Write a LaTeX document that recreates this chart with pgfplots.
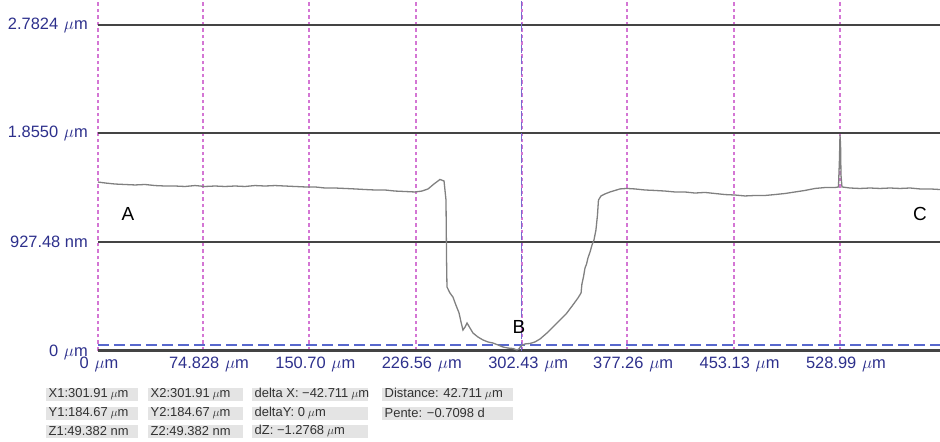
\documentclass[border=0pt]{standalone}
\usepackage{fontspec}
\setmainfont{Liberation Sans}
\usepackage{pgfplots}
\usepackage{pgfplotstable}
\pgfplotsset{compat=1.18}

\definecolor{lbl}{RGB}{45,48,140}
\definecolor{gridgray}{RGB}{68,68,68}
\definecolor{pinkgrid}{RGB}{212,118,212}
\definecolor{cursorblue}{RGB}{88,104,205}
\definecolor{profile}{RGB}{128,128,128}
\definecolor{boxgray}{RGB}{228,228,228}
\definecolor{infotext}{RGB}{50,50,50}

% micrometre unit with italic mu
\newcommand{\um}{\hspace{0.35em}$\mu$m}
\newcommand{\umsmall}{\hspace{0.22em}$\mu$m}

% height profile: x in micrometres, z in nanometres
\pgfplotstableread{
x z
0.0 1440
5.0 1432
12.1 1423
19.2 1419
26.4 1415
33.5 1419
40.6 1410
47.8 1406
54.9 1406
62.0 1402
69.2 1410
76.3 1402
83.4 1406
90.5 1402
97.7 1406
104.8 1402
111.9 1410
119.1 1406
126.2 1410
133.3 1406
140.4 1402
147.6 1398
154.7 1398
161.8 1389
169.0 1389
176.1 1385
183.2 1381
190.3 1376
197.5 1372
204.6 1372
211.7 1363
218.9 1359
226.0 1355
231.0 1363
235.3 1381
239.5 1423
243.8 1462
246.7 1449
248.1 1286
248.5 774
248.8 543
250.9 492
253.1 456
255.2 387
257.4 321
258.8 244
260.2 175
261.7 201
263.1 235
265.2 192
267.3 150
270.9 115
274.5 90
278.0 73
281.6 64
285.2 47
288.7 30
292.3 21
295.9 17
298.7 4
300.1 13
301.5 38
304.4 56
308.0 60
311.5 73
315.1 98
320.1 150
324.4 201
329.4 261
333.7 312
338.0 380
342.2 449
344.4 492
345.0 568
346.1 628
347.2 705
348.3 739
349.3 791
350.8 842
352.2 902
353.6 945
355.0 1030
356.1 1158
356.8 1286
358.6 1321
361.4 1338
365.0 1355
368.6 1368
372.1 1381
377.1 1385
382.8 1381
389.9 1372
397.1 1368
404.2 1363
411.3 1355
418.4 1355
425.6 1346
432.7 1351
439.9 1342
447.0 1333
454.1 1329
461.3 1321
468.4 1325
475.5 1325
482.6 1333
489.8 1342
496.9 1355
504.0 1368
511.2 1385
518.3 1393
525.4 1393
527.9 1398
528.6 1628
529.0 1842
529.4 1757
529.7 1500
530.4 1398
536.1 1389
543.2 1385
550.4 1389
557.5 1385
564.6 1389
571.8 1385
578.9 1389
586.0 1381
593.1 1381
600.3 1376
}\profiletable

% grey info cell: left x, right x, centre y, text
\newcommand{\infocell}[4]{%
  \fill[boxgray] (#1bp,#3bp-6.5bp) rectangle (#2bp,#3bp+6.5bp);
  \node[anchor=west, inner sep=0pt, text=infotext,
        font=\fontsize{13}{15}\selectfont] at (#1bp+2.5bp,#3bp) {#4};}

\begin{document}
\begin{tikzpicture}
\useasboundingbox (-98bp,-91.5bp) rectangle (842bp,350.5bp);
\begin{axis}[
  scale only axis, width=842bp, height=350.5bp,
  at={(0,0)}, anchor=south west,
  xmin=0, xmax=600.3, ymin=0, ymax=2996,
  axis line style={draw=none},
  major tick length=0pt,
  xtick={0,74.828,150.70,226.56,302.43,377.26,453.13,528.99},
  xticklabels={\hspace*{-10bp}0\um,74.828\um,150.70\um,226.56\um,302.43\um,377.26\um,453.13\um,528.99\um},
  ytick={927.48,1855.0,2782.4},
  yticklabels={927.48 nm,1.8550\um,2.7824\um},
  extra y ticks={0}, extra y tick labels={0\um},
  extra y tick style={yticklabel style={yshift=-1.5bp}},
  xmajorgrids, ymajorgrids,
  x grid style={pinkgrid, line width=2bp, dash pattern=on 3.5bp off 3bp},
  y grid style={gridgray, line width=2bp},
  tick label style={font=\fontsize{16.5}{18}\selectfont, text=lbl, inner sep=0pt},
  xticklabel style={anchor=north, xshift=6bp, yshift=-6.5bp},
  yticklabel style={anchor=east, xshift=-10bp},
  clip=false,
]
% base line at zero height
\addplot[gridgray, line width=2bp] coordinates {(0,0) (600.3,0)};
% cursor lines
\addplot[cursorblue, line width=1.8bp, dash pattern=on 11bp off 5bp]
  coordinates {(0,49.382) (600.3,49.382)};
\addplot[cursorblue!75!pinkgrid, line width=1.3bp, dash pattern=on 8bp off 3bp]
  coordinates {(301.91,0) (301.91,2996)};
% profile
\addplot[profile, line width=1.3bp] table[x=x, y=z] {\profiletable};
% point markers
\node[font=\fontsize{19}{21}\selectfont] at (axis cs:21.4,1167) {A};
\node[font=\fontsize{19}{21}\selectfont] at (axis cs:300.1,201) {B};
\node[font=\fontsize{19}{21}\selectfont] at (axis cs:586,1167) {C};
\end{axis}
% measurement readout
\infocell{-52}{40}{-43.5}{X1:301.91\umsmall}
\infocell{50}{145}{-43.5}{X2:301.91\umsmall}
\infocell{154}{270}{-43.5}{delta X: −42.711\umsmall}
\infocell{284}{415}{-43.5}{Distance: 42.711\umsmall}
\infocell{-52}{40}{-62.5}{Y1:184.67\umsmall}
\infocell{50}{145}{-62.5}{Y2:184.67\umsmall}
\infocell{154}{270}{-62.5}{deltaY: 0\umsmall}
\infocell{284}{415}{-62.5}{Pente: −0.7098 d}
\infocell{-52}{40}{-80.5}{Z1:49.382 nm}
\infocell{50}{145}{-80.5}{Z2:49.382 nm}
\infocell{154}{270}{-80.5}{dZ: −1.2768\umsmall}
\end{tikzpicture}
\end{document}
